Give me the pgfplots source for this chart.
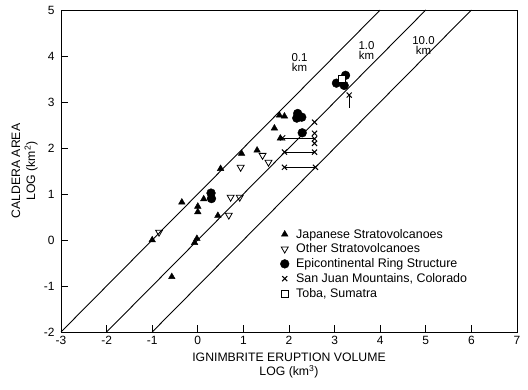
\documentclass[border=0pt]{standalone}
\usepackage{fontspec}
\setmainfont{Liberation Sans}
\usepackage{pgfplots}
\pgfplotsset{compat=1.18}
\begin{document}
\begin{tikzpicture}
\begin{axis}[
  scale only axis, width=456bp, height=322bp,
  xmin=-3, xmax=7, ymin=-2, ymax=5,
  xtick={-3,...,7}, ytick={-2,...,5},
  xtick pos=bottom, ytick pos=left,
  tick align=inside, major tick length=7bp,
  tick style={black, line width=0.8pt},
  axis line style={line width=0.9pt},
  /pgf/number format/assume math mode=true,
  ticklabel style={font=\fontsize{12}{14}\selectfont},
  xticklabel style={yshift=-1bp},
  yticklabel style={xshift=-3bp},
  xlabel={IGNIMBRITE ERUPTION VOLUME\\LOG (km\textsuperscript{3})},
  ylabel={CALDERA AREA\\LOG (km\textsuperscript{2})},
  every axis x label/.style={at={(axis description cs:0.5,-0.104)}, anchor=center, align=center, font=\fontsize{12.3}{15}\selectfont},
  every axis y label/.style={at={(axis description cs:-0.08,0.5)}, anchor=center, rotate=90, align=center, font=\fontsize{12.3}{15}\selectfont},
  legend style={at={(axis cs:1.74,0.33)}, anchor=north west, draw=none, fill=none,
     font=\fontsize{12.5}{14}\selectfont, row sep=0.3bp,
     /tikz/every odd column/.append style={column sep=5bp}},
  legend cell align=left,
  clip=false,
]
% reference lines
\addplot[black, line width=0.9pt, forget plot] coordinates {(-3,-2) (4,5)};
\addplot[black, line width=0.9pt, forget plot] coordinates {(-2,-2) (5,5)};
\addplot[black, line width=0.9pt, forget plot] coordinates {(-1,-2) (6,5)};
% San Juan connecting lines
\addplot[black, line width=0.9pt, forget plot] coordinates {(1.86,2.20) (2.56,2.20)};
\addplot[black, line width=0.9pt, forget plot] coordinates {(1.90,1.91) (2.56,1.91)};
\addplot[black, line width=0.9pt, forget plot] coordinates {(1.90,1.58) (2.58,1.58)};
\addplot[black, line width=0.9pt, forget plot] coordinates {(3.32,3.15) (3.32,2.86)};
% Japanese Stratovolcanoes
\addplot[only marks, mark=triangle*, mark size=3.8bp, black] coordinates {
(-0.57,-0.80) (-1.00,0.00) (-0.35,0.82) (0.00,0.73) (0.00,0.61) (0.13,0.89)
(-0.02,0.03) (-0.07,-0.06) (0.44,0.53) (0.50,1.55) (0.96,1.88) (1.30,1.95)
(1.79,2.71) (1.90,2.69) (1.68,2.43) (1.81,2.21)};
\addlegendentry{Japanese Stratovolcanoes}
% Other Stratovolcanoes
\addplot[only marks, mark=triangle, mark size=4bp, black, mark options={rotate=180, fill=white, line width=0.8pt}] coordinates {
(-0.85,0.17) (0.68,0.54) (0.72,0.93) (0.92,0.93) (0.94,1.58) (1.42,1.84) (1.55,1.69)};
\addlegendentry{Other Stratovolcanoes}
% Epicontinental Ring Structure
\addplot[only marks, mark=*, mark size=4.4bp, black] coordinates {
(0.29,1.02) (0.30,0.90) (2.19,2.75) (2.28,2.67) (2.17,2.65) (2.29,2.33)
(3.04,3.41) (3.24,3.58) (3.21,3.36)};
\addlegendentry{Epicontinental Ring Structure}
% San Juan Mountains
\addplot[only marks, mark=x, mark size=3.6bp, black, mark options={line width=1pt}] coordinates {
(2.56,2.56) (2.56,2.32) (2.56,2.20) (2.56,2.10) (1.86,2.22)
(1.90,1.91) (2.56,1.91) (1.90,1.58) (2.58,1.58) (3.32,3.15)};
\addlegendentry{San Juan Mountains, Colorado}
% Toba
\addplot[only marks, mark=square*, mark size=3.5bp, black, mark options={fill=white, line width=0.8pt}] coordinates {(3.15,3.51)};
\addlegendentry{Toba, Sumatra}
% line labels
\node[align=center, font=\fontsize{11.5}{10.5}\selectfont] at (axis cs:2.23,3.86) {0.1\\km};
\node[align=center, font=\fontsize{11.5}{10.5}\selectfont] at (axis cs:3.70,4.12) {1.0\\km};
\node[align=center, font=\fontsize{11.5}{10.5}\selectfont] at (axis cs:4.95,4.23) {10.0\\km};
\end{axis}
\pgfresetboundingbox
\path[use as bounding box] ([xshift=-61bp,yshift=-58bp]current axis.south west) rectangle ([xshift=11bp,yshift=10bp]current axis.north east);
\end{tikzpicture}
\end{document}
